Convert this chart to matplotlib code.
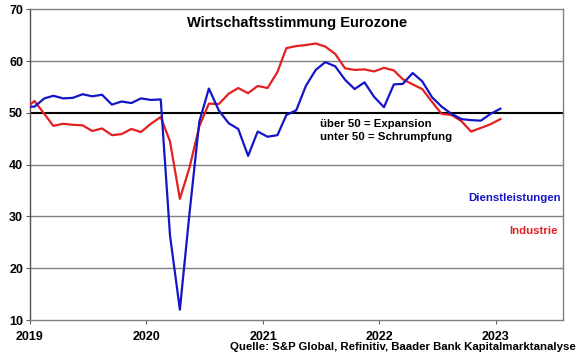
import numpy as np
import pandas as pd
import matplotlib
matplotlib.use("Agg")
import matplotlib.pyplot as plt
import matplotlib.dates as mdates

plt.rcParams['font.family'] = ['Liberation Sans', 'DejaVu Sans']
plt.rcParams['font.weight'] = 'bold'

# monthly PMI values, Dec 2018 .. Jan 2023
months = pd.date_range("2018-12-01", "2023-01-01", freq="MS") + pd.Timedelta(days=14)

dienstleistungen = [
    51.2,
    51.2, 52.8, 53.3, 52.8, 52.9, 53.6, 53.2, 53.5, 51.6, 52.2, 51.9, 52.8,
    52.5, 52.6, 26.4, 12.0, 30.5, 48.3, 54.7, 50.5, 48.0, 46.9, 41.7, 46.4,
    45.4, 45.7, 49.6, 50.5, 55.2, 58.3, 59.8, 59.0, 56.4, 54.6, 55.9, 53.1,
    51.1, 55.5, 55.6, 57.7, 56.1, 53.0, 51.2, 49.8, 48.8, 48.6, 48.5, 49.8,
    50.8,
]
industrie = [
    50.7,
    52.3, 49.8, 47.5, 47.9, 47.7, 47.6, 46.5, 47.0, 45.7, 45.9, 46.9, 46.3,
    47.9, 49.2, 44.5, 33.4, 39.4, 47.4, 51.8, 51.7, 53.7, 54.8, 53.8, 55.2,
    54.8, 57.9, 62.5, 62.9, 63.1, 63.4, 62.8, 61.4, 58.6, 58.3, 58.4, 58.0,
    58.7, 58.2, 56.5, 55.5, 54.6, 52.1, 49.8, 49.6, 48.4, 46.4, 47.1, 47.8,
    48.8,
]

years = [2019, 2020, 2021, 2022, 2023]
yticks = [10, 20, 30, 40, 50, 60, 70]

fig = plt.figure(figsize=(5.8, 3.58), dpi=100)
ax = fig.add_axes([0.0517, 0.106, 0.9193, 0.868])

# grid lines
for v in [20, 30, 40, 60]:
    ax.axhline(v, color="#808080", lw=1.0, zorder=1)
ax.axhline(50, color="black", lw=1.5, zorder=2)

ax.plot(months, industrie, color="#e2201f", lw=1.6, zorder=3)
ax.plot(months, dienstleistungen, color="#1515c8", lw=1.6, zorder=4)

ax.set_xlim(pd.Timestamp("2019-01-01"), pd.Timestamp("2023-07-31"))
ax.set_ylim(10, 70)
ax.set_yticks(yticks)
ax.set_xticks([pd.Timestamp(f"{y}-01-01") for y in years])
ax.xaxis.set_major_formatter(mdates.DateFormatter("%Y"))
ax.tick_params(axis="both", labelsize=9, length=3, width=0.8, color="#606060", pad=2)
ax.tick_params(axis="x", pad=5)

for s in ["top", "right", "bottom"]:
    ax.spines[s].set_color("#808080")
    ax.spines[s].set_linewidth(1.0)
ax.spines["left"].set_color("#505050")
ax.spines["left"].set_linewidth(1.0)

ax.text(0.5, 0.955, "Wirtschaftsstimmung Eurozone", transform=ax.transAxes,
        ha="center", va="center", fontsize=10.5, fontweight="bold")
ax.text(0.544, 0.631, "über 50 = Expansion", transform=ax.transAxes,
        ha="left", va="center", fontsize=8.2, fontweight="bold")
ax.text(0.544, 0.590, "unter 50 = Schrumpfung", transform=ax.transAxes,
        ha="left", va="center", fontsize=8.2, fontweight="bold")
ax.text(0.996, 0.393, "Dienstleistungen", transform=ax.transAxes, color="#1515c8",
        ha="right", va="center", fontsize=8.2, fontweight="bold")
ax.text(0.990, 0.287, "Industrie", transform=ax.transAxes, color="#e2201f",
        ha="right", va="center", fontsize=8.2, fontweight="bold")

fig.text(0.993, 0.030, "Quelle: S&P Global, Refinitiv, Baader Bank Kapitalmarktanalyse",
         ha="right", va="center", fontsize=8.2, fontweight="bold")

fig.savefig("out.png", dpi=100)
